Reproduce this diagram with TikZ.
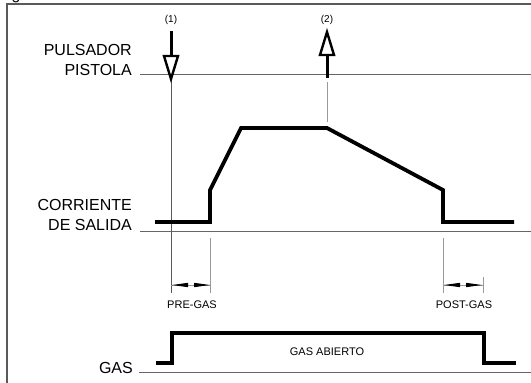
\documentclass[tikz,border=0pt]{standalone}
\usepackage{fontspec}
\setmainfont{Liberation Sans}
\begin{document}
\begin{tikzpicture}[x=1pt,y=-1pt,
  bigtxt/.style={font=\fontsize{16}{20}\selectfont,align=right,anchor=east,inner sep=0pt},
  smalltxt/.style={font=\fontsize{11}{12}\selectfont,inner sep=0pt},
  tinytxt/.style={font=\fontsize{10}{11}\selectfont,inner sep=0pt},
  frameline/.style={draw=black!65,line width=1.4pt},
  refline/.style={draw=black!60,line width=0.9pt},
  tickline/.style={draw=black!40,line width=0.9pt},
  darktick/.style={draw=black!65,line width=0.9pt},
  signal/.style={draw=black,line width=3.8pt,miter limit=10},
  shaft/.style={draw=black,line width=3pt},
  openhead/.style={draw=black,fill=white,line width=2.4pt,line join=miter},
  dimhead/.style={fill=black,draw=none}]
\useasboundingbox (0,0) rectangle (531,383);

% cut-off title fragment
\node[font=\fontsize{16}{20}\selectfont,inner sep=0pt,anchor=base] (frag) at (16,-1) {g};

% frame
\coordinate (fbl) at (7,383);
\coordinate (ftl) at (7,4);
\coordinate (ftr) at (531,4);
\draw[frameline] (fbl) -- (ftl) -- (ftr);

% labels
\node[bigtxt] (pul) at (132,60) {PULSADOR\\PISTOLA};
\node[bigtxt] (cor) at (132,215) {CORRIENTE\\DE SALIDA};
\node[bigtxt] (gas) at (133,368) {GAS};

% reference lines
\coordinate (r1a) at (140,74);  \coordinate (r1b) at (531,74);
\coordinate (r2a) at (140,231); \coordinate (r2b) at (531,231);
\coordinate (r3a) at (139,372); \coordinate (r3b) at (531,372);
\draw[refline] (r1a) -- (r1b);
\draw[refline] (r2a) -- (r2b);
\draw[refline] (r3a) -- (r3b);

% vertical guides
\coordinate (v1a) at (171,80);  \coordinate (v1b) at (171,293);
\coordinate (v2a) at (210,238); \coordinate (v2b) at (210,293);
\coordinate (v3a) at (443,238); \coordinate (v3b) at (443,293);
\coordinate (v4a) at (483,277); \coordinate (v4b) at (483,293);
\coordinate (v5a) at (327,82);  \coordinate (v5b) at (327,122);
\draw[darktick] (v1a) -- (v1b);
\draw[tickline] (v2a) -- (v2b);
\draw[tickline] (v3a) -- (v3b);
\draw[tickline] (v4a) -- (v4b);
\draw[tickline] (v5a) -- (v5b);

% arrow (1)
\node[tinytxt] (l1) at (171,20) {(1)};
\coordinate (a1s) at (171,31); \coordinate (a1e) at (171,56);
\draw[shaft] (a1s) -- (a1e);
\draw[openhead] (164,56) -- (178,56) -- (171,79) -- cycle;

% arrow (2)
\node[tinytxt] (l2) at (327,20) {(2)};
\coordinate (a2s) at (327,78); \coordinate (a2e) at (327,54);
\draw[shaft] (a2s) -- (a2e);
\draw[openhead] (320,55) -- (334,55) -- (327,32) -- cycle;

% current waveform
\coordinate (c0) at (155,222);
\coordinate (c1) at (210,222);
\coordinate (c2) at (210,190);
\coordinate (c3) at (241,128);
\coordinate (c4) at (327,128);
\coordinate (c5) at (443,190);
\coordinate (c6) at (443,222);
\coordinate (c7) at (514,222);
\draw[signal] (c0) -- (c1) -- (c2) -- (c3) -- (c4) -- (c5) -- (c6) -- (c7);

% gas waveform
\coordinate (g0) at (156,363);
\coordinate (g1) at (172,363);
\coordinate (g2) at (172,333);
\coordinate (g3) at (484,333);
\coordinate (g4) at (484,363);
\coordinate (g5) at (516,363);
\draw[signal] (g0) -- (g1) -- (g2) -- (g3) -- (g4) -- (g5);
\node[smalltxt] (ga) at (327,352) {GAS ABIERTO};

% dimension arrows
\draw[tickline] (v1b |- 0,285) -- (v2b |- 0,285);
\fill[dimhead] (172,285) -- (188,282.8) -- (188,287.2) -- cycle;
\fill[dimhead] (210,285) -- (194,282.8) -- (194,287.2) -- cycle;
\draw[tickline] (v3b |- 0,285) -- (v4b |- 0,285);
\fill[dimhead] (444,285) -- (460,282.8) -- (460,287.2) -- cycle;
\fill[dimhead] (482,285) -- (466,282.8) -- (466,287.2) -- cycle;
\node[smalltxt] (pre) at (192,305) {PRE-GAS};
\node[smalltxt] (post) at (464,305) {POST-GAS};
\end{tikzpicture}
\end{document}
